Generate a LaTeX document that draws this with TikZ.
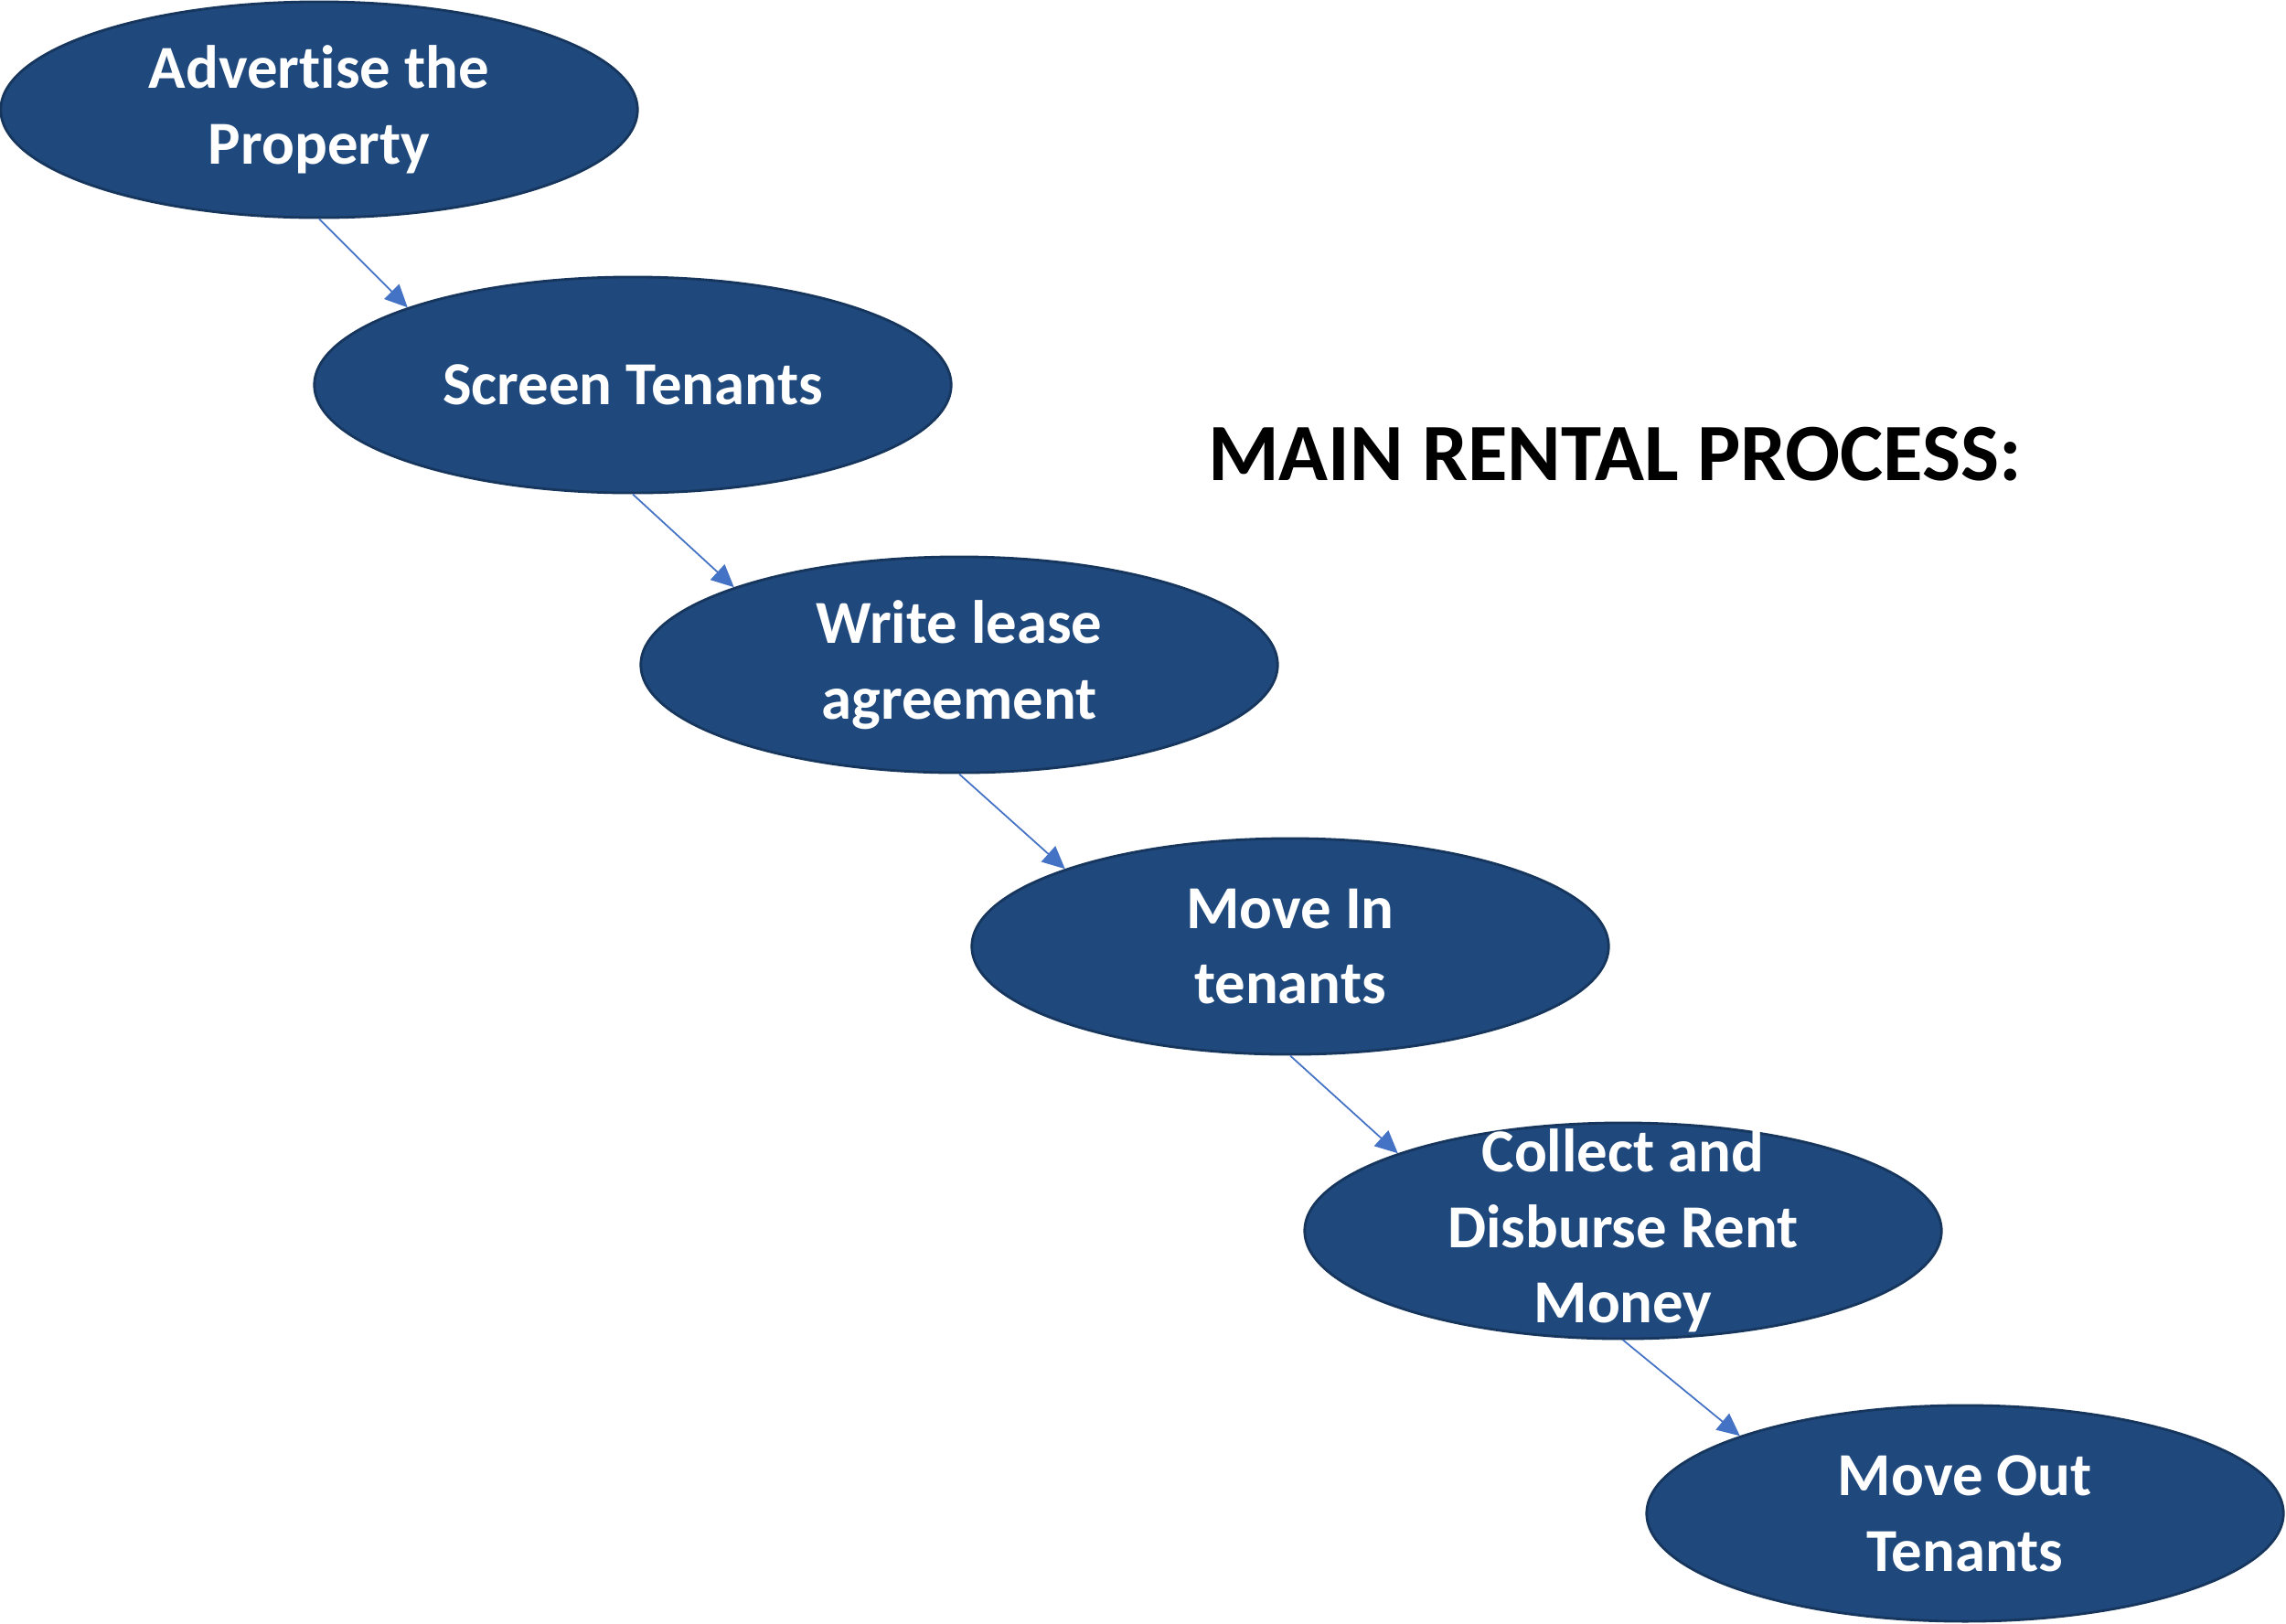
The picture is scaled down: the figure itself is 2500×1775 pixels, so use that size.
\documentclass[tikz,border=0pt]{standalone}
\usepackage{fontspec}
\setmainfont{Carlito}[Ligatures=NoCommon]
\usetikzlibrary{shapes.geometric,arrows.meta}
\definecolor{bleuetape}{HTML}{1F497D}
\definecolor{bordetape}{HTML}{17365D}
\definecolor{fleche}{HTML}{4472C4}
\begin{document}
\begin{tikzpicture}[x=0.01cm, y=-0.01cm,
    etape/.style={ellipse, fill=bleuetape, draw=bordetape, line width=0.8pt,
      minimum width=6.96cm, minimum height=2.36cm, inner sep=-20pt, align=center,
      text=white, font=\fontsize{19}{23.5}\selectfont\bfseries},
    lien/.style={draw=fleche, line width=0.5pt, -{Triangle[length=7pt,width=6.5pt]}}]
    \useasboundingbox (0,0) rectangle (2500,1775);

    % Titre
    \node[font=\fontsize{25.3}{30}\selectfont\bfseries] (titre) at (1766,497) {MAIN RENTAL PROCESS:};

    % Etapes
    \node[etape] (annonce) at (349,120) {Advertise the\\Property};
    \node[etape] (selection) at (692,421) {Screen Tenants};
    \node[etape] (bail) at (1049,727) {Write lease\\agreement};
    \node[etape] (entree) at (1411,1035) {Move In\\tenants};
    \node[etape] (loyer) at (1775,1346) {Collect and\\Disburse Rent\\Money};
    \node[etape] (sortie) at (2149,1655) {Move Out\\Tenants};

    % Fleches
    \foreach \a/\b in {annonce/selection, selection/bail, bail/entree, entree/loyer, loyer/sortie} {
        \draw[lien] (\a.south) -- (\b.161.5);
    }

\end{tikzpicture}
\end{document}
